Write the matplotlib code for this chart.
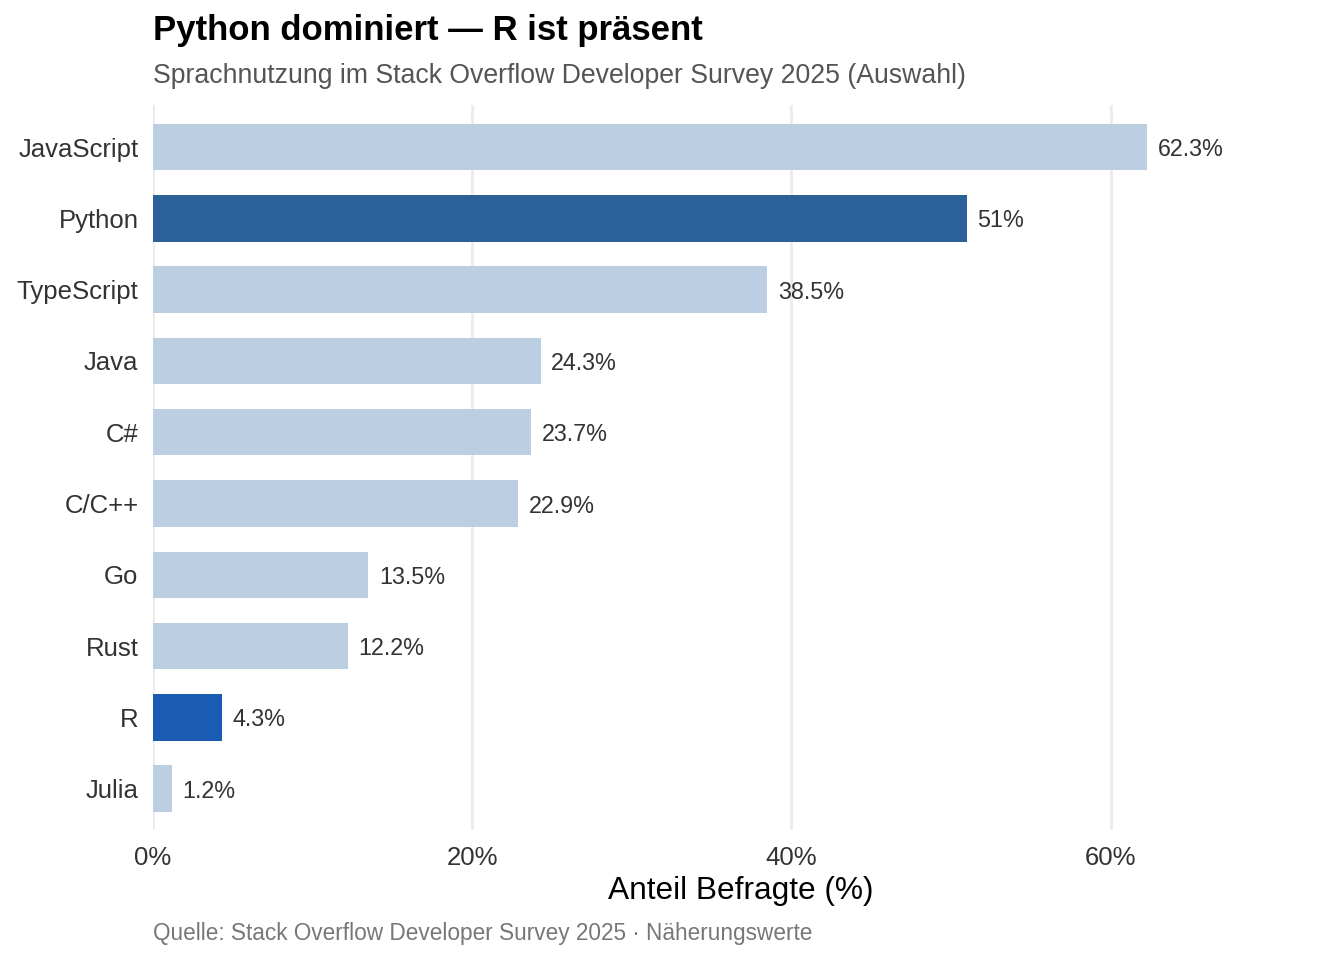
import matplotlib
matplotlib.use("Agg")
import matplotlib.pyplot as plt

languages = ["JavaScript", "Python", "TypeScript", "Java", "C#", "C/C++", "Go", "Rust", "R", "Julia"]
shares = [62.3, 51.0, 38.5, 24.3, 23.7, 22.9, 13.5, 12.2, 4.3, 1.2]
value_labels = ["62.3%", "51%", "38.5%", "24.3%", "23.7%", "22.9%", "13.5%", "12.2%", "4.3%", "1.2%"]
x_ticks = [0, 20, 40, 60]
x_tick_labels = ["0%", "20%", "40%", "60%"]

colors = {"Python": "#2C6098", "R": "#1A5BB3"}
default_color = "#BBCEE2"

plt.rcParams["font.family"] = ["Liberation Sans", "DejaVu Sans"]

W, H = 1344, 960
fig = plt.figure(figsize=(W / 100, H / 100), dpi=100)
fig.patch.set_facecolor("white")

left, right, top, bottom = 153, 1330, 105, 830
ax = fig.add_axes([left / W, 1 - bottom / H, (right - left) / W, (bottom - top) / H])

n = len(languages)
ypos = [n - 1 - i for i in range(n)]
bar_colors = [colors.get(l, default_color) for l in languages]
ax.barh(ypos, shares, height=0.65, color=bar_colors, zorder=2)

for y, v, lab in zip(ypos, shares, value_labels):
    ax.text(v + 0.65, y, lab, va="center_baseline", ha="left", fontsize=16.8,
            color="#333333", zorder=3)

ax.set_xlim(0, (right - left) / 15.96)
ax.set_ylim(-0.58, n - 0.41)
ax.set_yticks(ypos)
ax.set_yticklabels(languages, fontsize=18.5, color="#333333", va="center_baseline")
ax.set_xticks(x_ticks)
ax.set_xticklabels(x_tick_labels, fontsize=18.5, color="#333333")
ax.tick_params(axis="both", length=0)
ax.tick_params(axis="y", pad=10.5)
ax.tick_params(axis="x", pad=11.5)
for s in ax.spines.values():
    s.set_visible(False)
ax.xaxis.grid(True, color="#EBEBEB", linewidth=2, zorder=0)
ax.yaxis.grid(False)
ax.set_axisbelow(True)

fig.text(153 / W, 1 - 40 / H, "Python dominiert — R ist präsent", fontsize=25,
         fontweight="bold", color="black", ha="left", va="baseline")
fig.text(153 / W, 1 - 83 / H, "Sprachnutzung im Stack Overflow Developer Survey 2025 (Auswahl)",
         fontsize=19.2, color="#555555", ha="left", va="baseline")
fig.text(741 / W, 1 - 899 / H, "Anteil Befragte (%)", fontsize=22.8, color="black",
         ha="center", va="baseline")
fig.text(153 / W, 1 - 940 / H, "Quelle: Stack Overflow Developer Survey 2025 · Näherungswerte",
         fontsize=16.3, color="#777777", ha="left", va="baseline")

fig.savefig("out.png", dpi=100, facecolor="white")
